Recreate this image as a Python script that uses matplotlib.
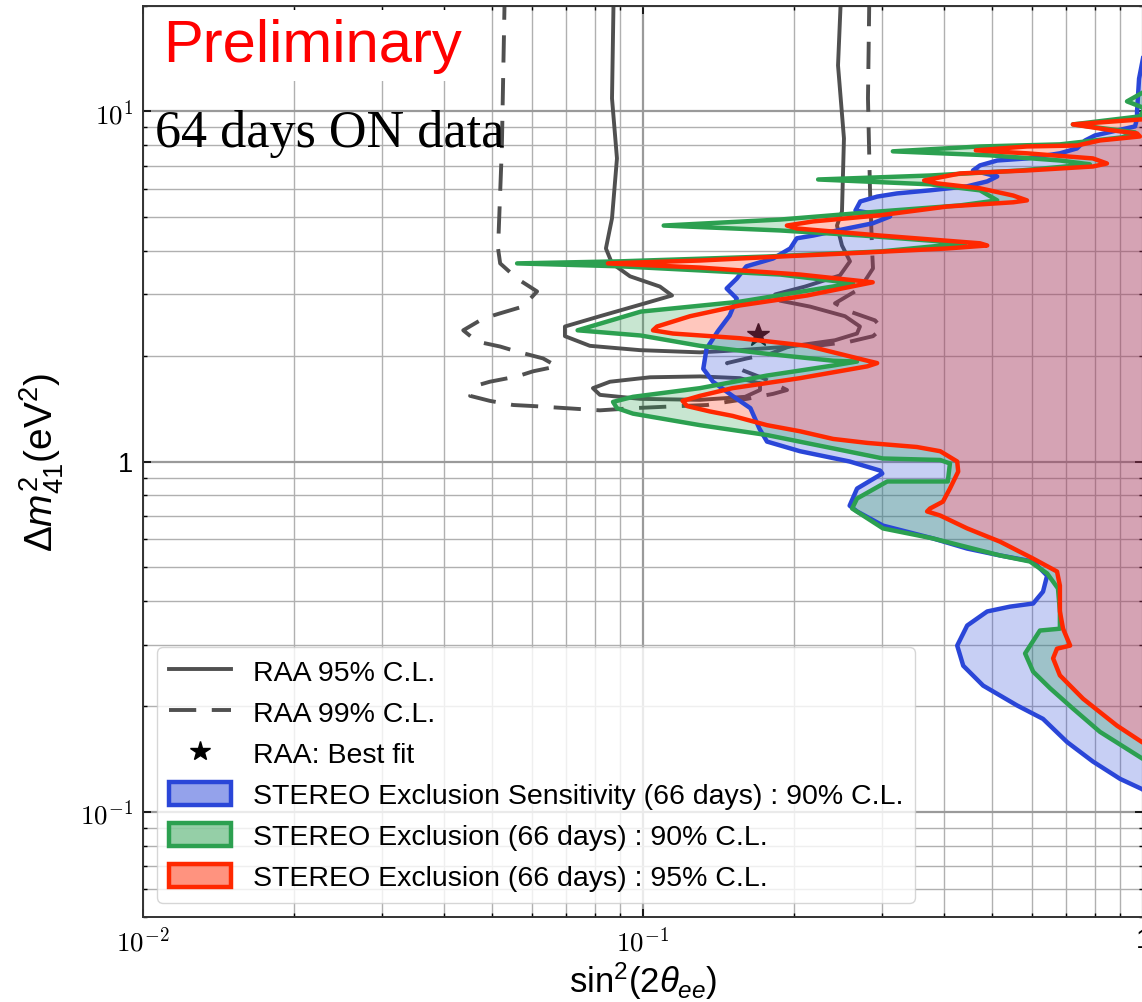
import matplotlib.pyplot as plt
import numpy as np
from matplotlib.colors import to_rgba
from matplotlib.lines import Line2D
from matplotlib.patches import Patch
from matplotlib.ticker import FuncFormatter, NullFormatter

# STEREO exclusion sensitivity, 90% C.L. (sin^2(2theta_ee), dm2_41), from top to bottom
sens_x = [1.08, 0.982, 0.973, 0.973, 0.964, 0.802, 0.766, 0.738, 0.682, 0.586, 0.511,
          0.472, 0.457, 0.511, 0.488, 0.445, 0.375, 0.322, 0.294, 0.272, 0.266, 0.312,
          0.288, 0.256, 0.219, 0.203, 0.197, 0.182, 0.161, 0.154, 0.147, 0.154, 0.149,
          0.141, 0.134, 0.132, 0.138, 0.151, 0.164, 0.171, 0.177, 0.206, 0.259, 0.298,
          0.301, 0.268, 0.259, 0.268, 0.302, 0.380, 0.445, 0.518, 0.603, 0.643, 0.631,
          0.603, 0.542, 0.488, 0.445, 0.425, 0.437, 0.479, 0.560, 0.631, 0.705, 0.794,
          0.900, 0.995, 1.3]
sens_y = [25, 12.4, 10.0, 9.55, 9.06, 8.54, 8.26, 7.84, 7.59, 7.34, 7.24,
          7.01, 6.78, 6.52, 6.31, 6.11, 5.95, 5.83, 5.71, 5.53, 5.21, 5.01,
          4.79, 4.63, 4.42, 4.34, 4.06, 3.80, 3.61, 3.33, 3.12, 2.92, 2.61,
          2.35, 2.10, 1.84, 1.69, 1.54, 1.42, 1.24, 1.14, 1.07, 1.00, 0.942,
          0.924, 0.837, 0.748, 0.720, 0.656, 0.603, 0.564, 0.539, 0.518, 0.472, 0.425,
          0.393, 0.385, 0.373, 0.340, 0.298, 0.261, 0.229, 0.201, 0.184, 0.158, 0.139,
          0.124, 0.116, 0.09]

# STEREO exclusion (66 days), 90% C.L.
excl90_x = [1.16, 1.033, 0.929, 1.009, 0.986, 0.724, 0.964, 0.908, 0.682, 0.472, 0.316,
            0.494, 0.682, 0.783, 0.568, 0.375, 0.224, 0.375, 0.472, 0.511, 0.431, 0.298,
            0.188, 0.110, 0.188, 0.275, 0.441, 0.298, 0.177, 0.090, 0.056, 0.090, 0.188,
            0.263, 0.156, 0.099, 0.074, 0.099, 0.130, 0.177, 0.240, 0.268, 0.240, 0.177,
            0.130, 0.0955, 0.0871, 0.0887, 0.0955, 0.130, 0.177, 0.240, 0.302, 0.393,
            0.411, 0.407, 0.308, 0.268, 0.262, 0.302, 0.380, 0.518, 0.594, 0.643, 0.676,
            0.682, 0.682, 0.622, 0.581, 0.603, 0.652, 0.724, 0.820, 0.995, 1.159]
excl90_y = [25, 11.63, 10.68, 10.2, 9.68, 9.18, 8.71, 8.43, 8.05, 7.94, 7.69,
            7.49, 7.24, 7.06, 6.78, 6.56, 6.39, 6.19, 5.95, 5.57, 5.39, 5.18,
            4.91, 4.72, 4.57, 4.42, 4.20, 3.98, 3.85, 3.73, 3.68, 3.61, 3.42,
            3.23, 2.86, 2.68, 2.37, 2.29, 2.14, 2.03, 1.94, 1.93, 1.88, 1.76,
            1.62, 1.53, 1.48, 1.42, 1.37, 1.27, 1.19, 1.09, 1.02, 1.01,
            0.987, 0.877, 0.877, 0.784, 0.734, 0.644, 0.603, 0.539, 0.518, 0.479, 0.434,
            0.373, 0.333, 0.329, 0.283, 0.251, 0.225, 0.197, 0.169, 0.142, 0.124]

# STEREO exclusion (66 days), 95% C.L.
excl95_x = [1.3, 1.15, 0.995, 0.724, 0.871, 0.973, 0.986, 0.820, 0.738, 0.586, 0.463,
            0.586, 0.794, 0.847, 0.794, 0.586, 0.431, 0.365, 0.387, 0.472, 0.550, 0.586,
            0.550, 0.406, 0.298, 0.219, 0.194, 0.203, 0.298, 0.472, 0.488, 0.406, 0.256,
            0.188, 0.130, 0.0851, 0.130, 0.206, 0.288, 0.213, 0.156, 0.1242, 0.1067,
            0.1047, 0.1148, 0.156, 0.213, 0.281, 0.294, 0.281, 0.206, 0.151, 0.130,
            0.120, 0.1225, 0.136, 0.151, 0.177, 0.206, 0.240, 0.281, 0.353, 0.393,
            0.425, 0.427, 0.411, 0.398, 0.375, 0.370, 0.393, 0.445, 0.518, 0.603, 0.673,
            0.682, 0.682, 0.692, 0.715, 0.673, 0.661, 0.682, 0.759, 0.887, 0.995, 1.159]
excl95_y = [25, 9.6, 9.49, 9.18, 8.82, 8.65, 8.48, 8.26, 7.99, 7.94, 7.74,
            7.59, 7.34, 7.10, 6.96, 6.78, 6.65, 6.35, 6.23, 6.03, 5.75, 5.57,
            5.50, 5.35, 5.05, 4.85, 4.72, 4.63, 4.42, 4.20, 4.14, 4.06, 3.93,
            3.85, 3.75, 3.68, 3.58, 3.42, 3.25, 2.98, 2.79, 2.60, 2.43,
            2.37, 2.32, 2.25, 2.14, 1.94, 1.91, 1.87, 1.73, 1.62, 1.54,
            1.49, 1.44, 1.39, 1.35, 1.27, 1.22, 1.16, 1.13, 1.10, 1.07,
            1.00, 0.936, 0.837, 0.768, 0.734, 0.720, 0.701, 0.644, 0.590, 0.528, 0.485,
            0.442, 0.373, 0.333, 0.298, 0.292, 0.274, 0.245, 0.210, 0.176, 0.158, 0.142]

# RAA allowed region, 95% C.L. (main contour and lower island)
raa95_x = [0.250, 0.2455, 0.2523, 0.250, 0.2443, 0.250, 0.2594, 0.2477, 0.2109, 0.1837,
           0.1879, 0.2158, 0.2535, 0.2716, 0.2679, 0.2421, 0.1968, 0.1563, 0.130, 0.0986,
           0.0783, 0.0698, 0.0698, 0.082, 0.1009, 0.1143, 0.1081, 0.0942, 0.0867, 0.0843,
           0.0867, 0.0887, 0.0867, 0.0875]
raa95_y = [25, 13.53, 8.37, 5.18, 4.72, 4.14, 3.73, 3.40, 3.16, 3.00,
           2.88, 2.77, 2.60, 2.43, 2.32, 2.22, 2.13, 2.08, 2.05, 2.08,
           2.14, 2.28, 2.43, 2.60, 2.83, 2.98, 3.16, 3.38, 3.68, 4.06,
           4.95, 7.34, 10.89, 25]
raa95_isl_x = [0.1714, 0.1563, 0.130, 0.1033, 0.0859, 0.0794, 0.082, 0.0986, 0.130,
               0.160, 0.1714, 0.1714]
raa95_isl_y = [1.67, 1.73, 1.75, 1.74, 1.69, 1.62, 1.55, 1.51, 1.50, 1.53, 1.60, 1.67]

# RAA allowed region, 99% C.L.
raa99_x = [0.284, 0.2818, 0.2844, 0.2871, 0.2884, 0.2716, 0.2421, 0.2594, 0.2911, 0.3006,
           0.2884, 0.2594, 0.2228, 0.2061, 0.1795, 0.1614, 0.1472, 0.1585, 0.1738, 0.1941,
           0.182, 0.1614, 0.1472, 0.1343, 0.1186, 0.0955, 0.082, 0.0603, 0.055, 0.0494,
           0.0451, 0.0466, 0.0494, 0.056, 0.0603, 0.0673, 0.0631, 0.056, 0.0518, 0.0466,
           0.0437, 0.0479, 0.0518, 0.0575, 0.0614, 0.056, 0.0518, 0.0513, 0.0522, 0.053]
raa99_y = [25, 10.89, 6.03, 4.06, 3.56, 3.12, 2.83, 2.68, 2.53, 2.40,
           2.28, 2.20, 2.14, 2.19, 2.03, 1.97, 1.91, 1.82, 1.73, 1.60,
           1.56, 1.51, 1.48, 1.45, 1.44, 1.42, 1.40, 1.44, 1.45, 1.49,
           1.54, 1.65, 1.69, 1.75, 1.81, 1.87, 1.97, 2.06, 2.13, 2.20,
           2.37, 2.56, 2.65, 2.77, 3.06, 3.33, 3.68, 4.06, 7.84, 25]

best_fit = (0.17, 2.3)

raa_color = '#505050'
blue, green, red = '#2a46d8', '#2ca050', '#ff2800'
fill_alpha = 0.26
far = 10.0  # closes the excluded regions beyond the right edge
raa_lw, stereo_lw = 2.8, 3.2
dashes = (0, (7, 4))

plt.rcParams.update({
    'font.family': 'Liberation Sans',
    'mathtext.fontset': 'cm',
    'mathtext.rm': 'Liberation Sans',
    'mathtext.it': 'Liberation Sans:italic',
    'mathtext.bf': 'Liberation Sans:bold',
    'mathtext.sf': 'Liberation Sans',
    'lines.solid_joinstyle': 'round',
    'lines.dash_joinstyle': 'round',
})

fig = plt.figure(figsize=(11.42, 10.03), dpi=100)
ax = fig.add_axes([143 / 1142, 85 / 1003, 1000 / 1142, 911 / 1003])
ax.set_xscale('log')
ax.set_yscale('log')
ax.set_axisbelow(True)

# RAA contours and best fit sit under the STEREO fills
ax.plot(raa95_x, raa95_y, color=raa_color, lw=raa_lw, zorder=2)
ax.plot(raa95_isl_x, raa95_isl_y, color=raa_color, lw=raa_lw, zorder=2)
ax.plot(raa99_x, raa99_y, color=raa_color, lw=raa_lw, ls=dashes, zorder=2)
ax.plot(*best_fit, marker='*', color='black', ms=17, ls='none', zorder=2)

# excluded regions lie to the right of each contour
ax.fill(sens_x + [far, far], sens_y + [sens_y[-1], sens_y[0]],
        color=blue, alpha=fill_alpha, lw=0, zorder=3)
ax.fill(excl90_x + excl95_x[::-1], excl90_y + excl95_y[::-1],
        color=green, alpha=fill_alpha, lw=0, zorder=3)
ax.fill(excl95_x + [far, far], excl95_y + [excl95_y[-1], excl95_y[0]],
        color=red, alpha=fill_alpha, lw=0, zorder=3)
ax.plot(sens_x, sens_y, color=blue, lw=stereo_lw, zorder=4)
ax.plot(excl90_x, excl90_y, color=green, lw=stereo_lw, zorder=4)
ax.plot(excl95_x, excl95_y, color=red, lw=stereo_lw, zorder=4)

ax.set_xlim(0.01, 1)
ax.set_ylim(0.05, 20)


def log_label(v, pos):
    k = int(round(np.log10(v)))
    return '1' if k == 0 else r'$10^{%d}$' % k


for axis in (ax.xaxis, ax.yaxis):
    axis.set_major_formatter(FuncFormatter(log_label))
    axis.set_minor_formatter(NullFormatter())
ax.tick_params(which='both', direction='in', top=True, right=True, labelsize=19.5, pad=7)
ax.tick_params(which='major', length=6, width=1.2)
ax.tick_params(which='minor', length=3, width=1)
ax.grid(which='major', color='#9a9a9a', lw=1.6)
ax.grid(which='minor', color='#b0b0b0', lw=1.0)
for s in ax.spines.values():
    s.set_color('#333333')
    s.set_linewidth(1.4)

ax.set_xlabel(r'$\mathrm{sin}^2(2\theta_{ee})$', fontsize=25, labelpad=2,
              math_fontfamily='custom')
ax.set_ylabel(r'$\Delta m^2_{41}(\mathrm{eV}^2)$', fontsize=28, labelpad=10,
              math_fontfamily='custom')

ax.text(0.02, 0.9396, 'Preliminary', transform=ax.transAxes, color='red', fontsize=43,
        va='baseline', zorder=6,
        bbox=dict(facecolor='white', edgecolor='none', pad=6))
ax.text(0.012, 0.8463, '64 days ON data', transform=ax.transAxes, color='black',
        fontsize=37.5, family='Liberation Serif', va='baseline', zorder=6)

handles = [
    Line2D([], [], color=raa_color, lw=raa_lw),
    Line2D([], [], color=raa_color, lw=raa_lw, ls=dashes),
    Line2D([], [], color='black', marker='*', ms=15, ls='none'),
    Patch(facecolor=to_rgba(blue, 0.5), edgecolor=blue, lw=stereo_lw),
    Patch(facecolor=to_rgba(green, 0.5), edgecolor=green, lw=stereo_lw),
    Patch(facecolor=to_rgba(red, 0.5), edgecolor=red, lw=stereo_lw),
]
labels = [
    'RAA 95% C.L.',
    'RAA 99% C.L.',
    'RAA: Best fit',
    'STEREO Exclusion Sensitivity (66 days) : 90% C.L.',
    'STEREO Exclusion (66 days) : 90% C.L.',
    'STEREO Exclusion (66 days) : 95% C.L.',
]
leg = ax.legend(handles, labels, loc='lower left', fontsize=20.5, handlelength=2.2,
                handleheight=0.9, handletextpad=0.75, labelspacing=0.47,
                borderaxespad=0.5)
leg.set_zorder(7)

fig.savefig('out.png', dpi=100)
